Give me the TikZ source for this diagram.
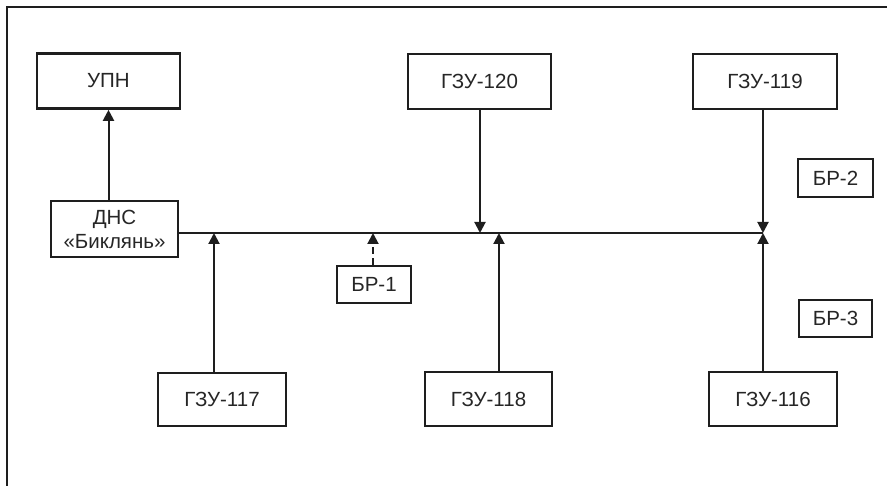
\documentclass[tikz,border=0pt]{standalone}
\usepackage{fontspec}
\setmainfont{Liberation Sans}
\usetikzlibrary{arrows.meta}
\definecolor{ink}{HTML}{1E1E1E}
\definecolor{txt}{HTML}{262626}
\tikzset{
  blk/.style={draw=ink, line width=2.6pt, fill=white, inner sep=0pt, align=center,
    font=\fontsize{20.5}{24}\selectfont, text=txt},
  conn/.style={draw=ink, line width=2pt},
  arr/.style={conn, -{Triangle[length=11pt,width=11pt]}},
}
\begin{document}
\begin{tikzpicture}[x=1pt,y=-1pt]
\useasboundingbox (0,0) rectangle (887,486);
% frame (cropped on right and bottom)
\draw[draw=ink, line width=2.6pt] (7,486) -- (7,7) -- (887,7);

% nodes
\node[blk, minimum width=143, minimum height=55] (upn) at (108.5,81) {УПН};
\node[blk, minimum width=127, minimum height=56] (dns) at (114.5,229) {ДНС\\«Биклянь»};
\node[blk, minimum width=143, minimum height=55] (g120) at (479.5,81.5) {ГЗУ-120};
\node[blk, minimum width=144, minimum height=55] (g119) at (765,81.5) {ГЗУ-119};
\node[blk, minimum width=75, minimum height=38] (br2) at (835.5,178) {БР-2};
\node[blk, minimum width=73, minimum height=37] (br3) at (835.5,318.5) {БР-3};
\node[blk, minimum width=74, minimum height=37] (br1) at (374,284.5) {БР-1};
\node[blk, minimum width=128, minimum height=53] (g117) at (222,399.5) {ГЗУ-117};
\node[blk, minimum width=127, minimum height=54] (g118) at (488.5,399) {ГЗУ-118};
\node[blk, minimum width=128, minimum height=54] (g116) at (773,399) {ГЗУ-116};

% junction points on the bus
\coordinate (busend) at (763,233);
\coordinate (j117) at (214,233);
\coordinate (j118) at (499,233);
\coordinate (j120) at (480,233);
\coordinate (j1) at (373,233);

% bus
\draw[conn] (dns.east |- busend) -- (busend);

% connectors
\draw[arr] (upn.south |- dns.north) -- (upn.south);
\draw[arr] (j117 |- g117.north) -- (j117);
\draw[arr, dashed, dash pattern=on 7pt off 4pt] (j1 |- br1.north) -- (j1);
\draw[arr] (j120 |- g120.south) -- (j120);
\draw[arr] (j118 |- g118.north) -- (j118);
\draw[arr] (busend |- g119.south) -- (busend);
\draw[arr] (busend |- g116.north) -- (busend);
\end{tikzpicture}
\end{document}
